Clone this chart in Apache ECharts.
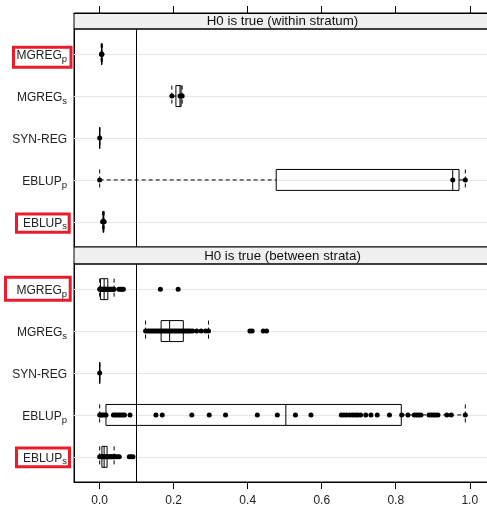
<!DOCTYPE html>
<html>
<head>
<meta charset="utf-8">
<script src="https://cdn.jsdelivr.net/npm/echarts@6/dist/echarts.min.js"></script>
<style>html,body{margin:0;padding:0;background:#fff;}#c{width:487px;height:506px;}</style>
</head>
<body>
<div id="c"></div>
<script>
// ---------------- data ----------------
const CATEGORIES = ['MGREGp', 'MGREGs', 'SYN-REG', 'EBLUPp', 'EBLUPs'];
const PANEL_TITLES = ['H0 is true (within stratum)', 'H0 is true (between strata)'];
const X_TICKS = [0, 0.2, 0.4, 0.6, 0.8, 1.0];
const REF_LINE = 0.1;

// box statistics per category: [min, q1, median, q3, max]
const withinStats = [
  [0.004, 0.005, 0.0055, 0.006, 0.007],
  [0.195, 0.206, 0.217, 0.220, 0.223],
  [0, 0, 0, 0, 0],
  [0, 0.477, 0.954, 0.971, 0.988],
  [0.008, 0.009, 0.0105, 0.011, 0.012]
];
const betweenStats = [
  [0, 0.002, 0.012, 0.022, 0.039],
  [0.124, 0.166, 0.189, 0.226, 0.294],
  [0, 0, 0, 0, 0],
  [0, 0.017, 0.503, 0.815, 0.988],
  [0, 0.006, 0.012, 0.020, 0.039]
];

// individual values per category
const withinPoints = [
  [0.005, 0.0055, 0.006],
  [0.195, 0.217, 0.223],
  [0],
  [0, 0.954, 0.988],
  [0.008, 0.009, 0.010, 0.011, 0.012]
];
const betweenPoints = [
  [0, 0.002, 0.004, 0.006, 0.008, 0.010, 0.012, 0.014, 0.016, 0.018, 0.020, 0.022,
   0.025, 0.028, 0.031, 0.034, 0.037, 0.039, 0.052, 0.056, 0.060, 0.064, 0.164, 0.212],
  [0.124, 0.130, 0.135, 0.140, 0.145, 0.150, 0.155, 0.160, 0.165, 0.170, 0.175, 0.180,
   0.185, 0.190, 0.195, 0.200, 0.205, 0.210, 0.215, 0.220, 0.225, 0.230, 0.235, 0.240,
   0.245, 0.251, 0.262, 0.274, 0.286, 0.294, 0.406, 0.412, 0.442, 0.451],
  [0],
  [0, 0.003, 0.007, 0.012, 0.017, 0.037, 0.042, 0.047, 0.052, 0.057, 0.062, 0.067,
   0.082, 0.152, 0.169, 0.249, 0.296, 0.340, 0.426, 0.480, 0.529, 0.571, 0.653, 0.660,
   0.667, 0.675, 0.683, 0.690, 0.697, 0.705, 0.719, 0.733, 0.750, 0.783, 0.816, 0.833,
   0.850, 0.856, 0.862, 0.868, 0.890, 0.896, 0.902, 0.908, 0.914, 0.938, 0.950, 0.988],
  [0, 0.003, 0.006, 0.009, 0.012, 0.015, 0.018, 0.021, 0.024, 0.027, 0.030, 0.033,
   0.036, 0.039, 0.043, 0.048, 0.053, 0.080, 0.085, 0.090]
];

// highlighted labels (panel index, category)
const HIGHLIGHTS = [[0, 'MGREGp'], [0, 'EBLUPs'], [1, 'MGREGp'], [1, 'EBLUPs']];

// ---------------- layout ----------------
const FONT = 'Liberation Sans, Arial, Helvetica, sans-serif';
const XMIN = -0.0694, XMAX = 1.0574;
const L = 74, W = 417;
const STRIPS = [{top: 13, height: 16}, {top: 247, height: 17}];
const PANELS = [{top: 29, height: 218}, {top: 264, height: 218}];
// red annotation boxes (outer extents), relative to label rows
const HL_BOX = [
  {x0: 12, x1: 72.5, dy0: -8.5, dy1: 14.5},
  {x0: 15, x1: 70.7, dy0: -9.4, dy1: 11.8},
  {x0: 4, x1: 71.7, dy0: -13.3, dy1: 12.7},
  {x0: 15, x1: 71, dy0: -10.4, dy1: 11.3}
];

const chart = echarts.init(document.getElementById('c'));

const grids = [], xAxes = [], yAxes = [], series = [];
function splitLabel(name) {
  const m = name.match(/^(.*?[A-Z])([a-z]?)$/);
  return m ? [m[1], m[2]] : [name, ''];
}

[0, 1].forEach(p => {
  const strip = STRIPS[p], panel = PANELS[p];
  grids.push({left: L, width: W, top: strip.top, height: strip.height, show: true,
    backgroundColor: '#f0f0f0', borderColor: '#000', borderWidth: 1, outerBoundsMode: 'none'});
  grids.push({left: L, width: W, top: panel.top, height: panel.height, show: true,
    backgroundColor: 'transparent', borderColor: '#000', borderWidth: 1, outerBoundsMode: 'none'});
  const gs = 2 * p, gp = 2 * p + 1;
  xAxes.push({
    gridIndex: gs, type: 'value', min: XMIN, max: XMAX, position: 'top',
    show: p === 0,
    axisLine: {show: true, onZero: false, lineStyle: {color: '#000', width: 1}},
    axisTick: {show: true, length: 7, inside: false, customValues: X_TICKS, lineStyle: {color: '#000'}},
    axisLabel: {show: false}, splitLine: {show: false}
  });
  xAxes.push({
    gridIndex: gp, type: 'value', min: XMIN, max: XMAX, position: 'bottom',
    show: p === 1,
    axisLine: {show: true, onZero: false, lineStyle: {color: '#000', width: 1}},
    axisTick: {show: true, length: 7, inside: false, customValues: X_TICKS, lineStyle: {color: '#000'}},
    axisLabel: {show: true, customValues: X_TICKS, formatter: v => v.toFixed(1), fontSize: 12,
      color: '#222', fontFamily: FONT, margin: 13},
    splitLine: {show: false}
  });
  yAxes.push({gridIndex: gs, type: 'value', min: 0, max: 1, show: false});
  yAxes.push({
    gridIndex: gp, type: 'value', min: 0.4, max: 5.6, interval: 0.2, inverse: true,
    position: 'left',
    axisLine: {show: true, onZero: false, lineStyle: {color: '#000', width: 1}},
    axisTick: {show: false}, splitLine: {show: false},
    axisLabel: {
      margin: 7,
      padding: [4, 0, 0, 0],
      formatter: v => {
        const r = Math.round(v);
        if (Math.abs(v - r) > 1e-6 || r < 1 || r > CATEGORIES.length) return '';
        const [main, sub] = splitLabel(CATEGORIES[r - 1]);
        return sub ? '{n|' + main + '}{s|' + sub + '}' : '{n|' + main + '}';
      },
      rich: {
        n: {fontSize: 12, fontFamily: FONT, color: '#222', lineHeight: 16, verticalAlign: 'middle'},
        s: {fontSize: 9.5, fontFamily: FONT, color: '#222', lineHeight: 15, verticalAlign: 'bottom'}
      }
    }
  });

  const stats = p === 0 ? withinStats : betweenStats;
  const pts = p === 0 ? withinPoints : betweenPoints;

  // horizontal reference grid lines
  series.push({
    type: 'scatter', xAxisIndex: gp, yAxisIndex: gp, data: [], z: 1, silent: true,
    markLine: {
      z: 1, silent: true, symbol: ['none', 'none'], label: {show: false}, animation: false,
      lineStyle: {color: '#e6e6e6', width: 1, type: 'solid'},
      emphasis: {disabled: true},
      data: CATEGORIES.map((c, i) => ({yAxis: i + 1}))
    }
  });
  // vertical reference line
  series.push({
    type: 'scatter', xAxisIndex: gp, yAxisIndex: gp, data: [], z: 2, silent: true,
    markLine: {
      z: 2, silent: true, symbol: ['none', 'none'], label: {show: false}, animation: false,
      lineStyle: {color: '#000', width: 1, type: 'solid'},
      emphasis: {disabled: true},
      data: [{xAxis: REF_LINE}]
    }
  });
  // box and whiskers
  series.push({
    type: 'custom', xAxisIndex: gp, yAxisIndex: gp, z: 3, silent: true,
    data: stats.map((s, i) => [i + 1].concat(s)),
    encode: {x: [1, 2, 3, 4, 5], y: 0},
    renderItem: (params, api) => {
      const r = api.value(0);
      const pt = k => api.coord([api.value(k), r]);
      const pMin = pt(1), pQ1 = pt(2), pMed = pt(3), pQ3 = pt(4), pMax = pt(5);
      const y = pMin[1];
      const h = Math.abs(api.size([0, 1])[1]) * 0.25;
      const dashed = {stroke: '#000', lineWidth: 1, lineDash: [4, 3], fill: null};
      const solid = {stroke: '#000', lineWidth: 1, fill: null};
      return {
        type: 'group',
        children: [
          {type: 'line', shape: {x1: pMin[0], y1: y, x2: pQ1[0], y2: y}, style: dashed},
          {type: 'line', shape: {x1: pQ3[0], y1: y, x2: pMax[0], y2: y}, style: dashed},
          {type: 'line', shape: {x1: pMin[0], y1: y - h, x2: pMin[0], y2: y + h}, style: dashed},
          {type: 'line', shape: {x1: pMax[0], y1: y - h, x2: pMax[0], y2: y + h}, style: dashed},
          {type: 'rect', shape: {x: pQ1[0], y: y - h, width: pQ3[0] - pQ1[0], height: 2 * h},
            style: {stroke: '#000', lineWidth: 1, fill: 'rgba(0,0,0,0)'}},
          {type: 'line', shape: {x1: pMed[0], y1: y - h, x2: pMed[0], y2: y + h}, style: solid}
        ]
      };
    }
  });
  // individual points
  const data = [];
  pts.forEach((arr, i) => arr.forEach(v => data.push([v, i + 1])));
  series.push({
    type: 'scatter', xAxisIndex: gp, yAxisIndex: gp, z: 4, silent: true,
    symbol: 'circle', symbolSize: 5, itemStyle: {color: '#000', opacity: 1},
    data: data
  });
});

chart.setOption({
  animation: false,
  backgroundColor: '#fff',
  grid: grids, xAxis: xAxes, yAxis: yAxes, series: series
});

// strip texts and highlight boxes
const graphics = [];
[0, 1].forEach(p => {
  graphics.push({
    type: 'text', x: L + W / 2, y: STRIPS[p].top + STRIPS[p].height / 2 + 0.5, silent: true,
    style: {text: PANEL_TITLES[p], fontSize: 13.3, fontFamily: FONT, fill: '#111',
      textAlign: 'center', textVerticalAlign: 'middle'}
  });
});
HIGHLIGHTS.forEach(([p, name], k) => {
  const row = CATEGORIES.indexOf(name) + 1;
  const yc = chart.convertToPixel({yAxisIndex: 2 * p + 1}, row);
  const b = HL_BOX[k];
  graphics.push({
    type: 'rect', silent: true, z: 10,
    shape: {x: b.x0 + 1.5, y: yc + b.dy0 + 1.5, width: b.x1 - b.x0 - 3, height: b.dy1 - b.dy0 - 3},
    style: {stroke: '#e81c2a', lineWidth: 3, fill: null}
  });
});
chart.setOption({graphic: graphics});
</script>
</body>
</html>
